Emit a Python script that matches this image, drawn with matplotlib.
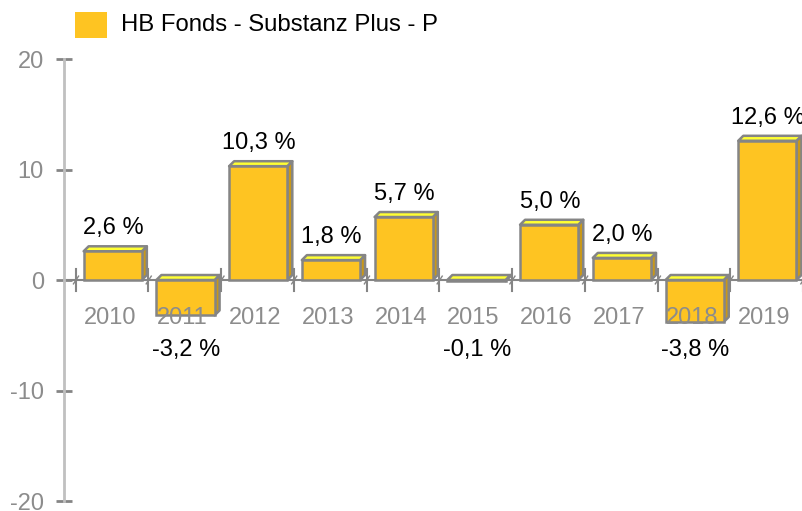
import matplotlib
matplotlib.use('Agg')
import matplotlib.pyplot as plt
from matplotlib.patches import Polygon, Rectangle

years = ['2010', '2011', '2012', '2013', '2014', '2015', '2016', '2017', '2018', '2019']
returns = [2.6, -3.2, 10.3, 1.8, 5.7, -0.1, 5.0, 2.0, -3.8, 12.6]
labels = ['2,6 %', '-3,2 %', '10,3 %', '1,8 %', '5,7 %', '-0,1 %', '5,0 %', '2,0 %', '-3,8 %', '12,6 %']
series_name = 'HB Fonds - Substanz Plus - P'

front_col = '#fec422'
top_col = '#ffff33'
side_col = '#c8981a'
edge_col = '#858585'
grey_txt = '#8c8c8c'

plt.rcParams['font.family'] = ['Liberation Sans', 'DejaVu Sans']

fig = plt.figure(figsize=(8.03, 5.11), dpi=100)
ax = fig.add_axes([64 / 803, 10 / 511, 1 - 64 / 803, 442 / 511])
ax.set_xlim(-0.66, 9.5)
ax.set_ylim(-20, 20)
for s in ['top', 'right', 'bottom']:
    ax.spines[s].set_visible(False)
ax.spines['left'].set_color('#c0c0c0')
ax.spines['left'].set_linewidth(2)
ax.set_xticks([])
ax.set_yticks([-20, -10, 0, 10, 20])
ax.set_yticklabels(['-20', '-10', '0', '10', '20'])
ax.tick_params(axis='y', length=11, width=2, color=edge_col, labelcolor=grey_txt,
               labelsize=17, pad=9, direction='inout')

# zero line and category ticks
ax.axhline(0, color=edge_col, lw=1.5, zorder=1)
for i in range(len(years) + 1):
    b = i - 0.5
    ax.plot([b, b], [-1.0, 1.0], color=edge_col, lw=1.5, zorder=1, clip_on=False)
    ax.plot([b - 0.03, b + 0.04], [-0.35, 0.35], color=edge_col, lw=1, zorder=1, clip_on=False)

dx = 0.069
dy = 0.45
w = 0.8
for i, v in enumerate(returns):
    x0 = i - 0.39
    x1 = x0 + w
    lo, hi = min(v, 0), max(v, 0)
    front = Rectangle((x0, lo), w, hi - lo, facecolor=front_col, edgecolor=edge_col,
                      lw=1.8, zorder=3, clip_on=False)
    top = Polygon([(x0, hi), (x1, hi), (x1 + dx, hi + dy), (x0 + dx, hi + dy)],
                  facecolor=top_col, edgecolor=edge_col, lw=1.8, zorder=3, clip_on=False,
                  joinstyle='round')
    side = Polygon([(x1, lo), (x1 + dx, lo + dy), (x1 + dx, hi + dy), (x1, hi)],
                   facecolor=side_col, edgecolor=edge_col, lw=1.8, zorder=3, clip_on=False,
                   joinstyle='round')
    ax.add_patch(side)
    ax.add_patch(top)
    ax.add_patch(front)
    ly = v + 2.1 if v > 0 else -6.33
    ax.text(i + 0.02, ly, labels[i], ha='center', va='center', fontsize=17, color='black',
            zorder=5)
    ax.text(i - 0.03, -3.45, years[i], ha='center', va='center', fontsize=17,
            color=grey_txt, zorder=4)

# legend
fig.patches.append(Rectangle((75 / 803, 1 - 38 / 511), 32 / 803, 26 / 511,
                             transform=fig.transFigure, facecolor=front_col,
                             edgecolor='none'))
fig.text(121 / 803, 1 - 25 / 511, series_name, ha='left', va='center', fontsize=17.2,
         color='black')

fig.savefig('out.png', dpi=100)
